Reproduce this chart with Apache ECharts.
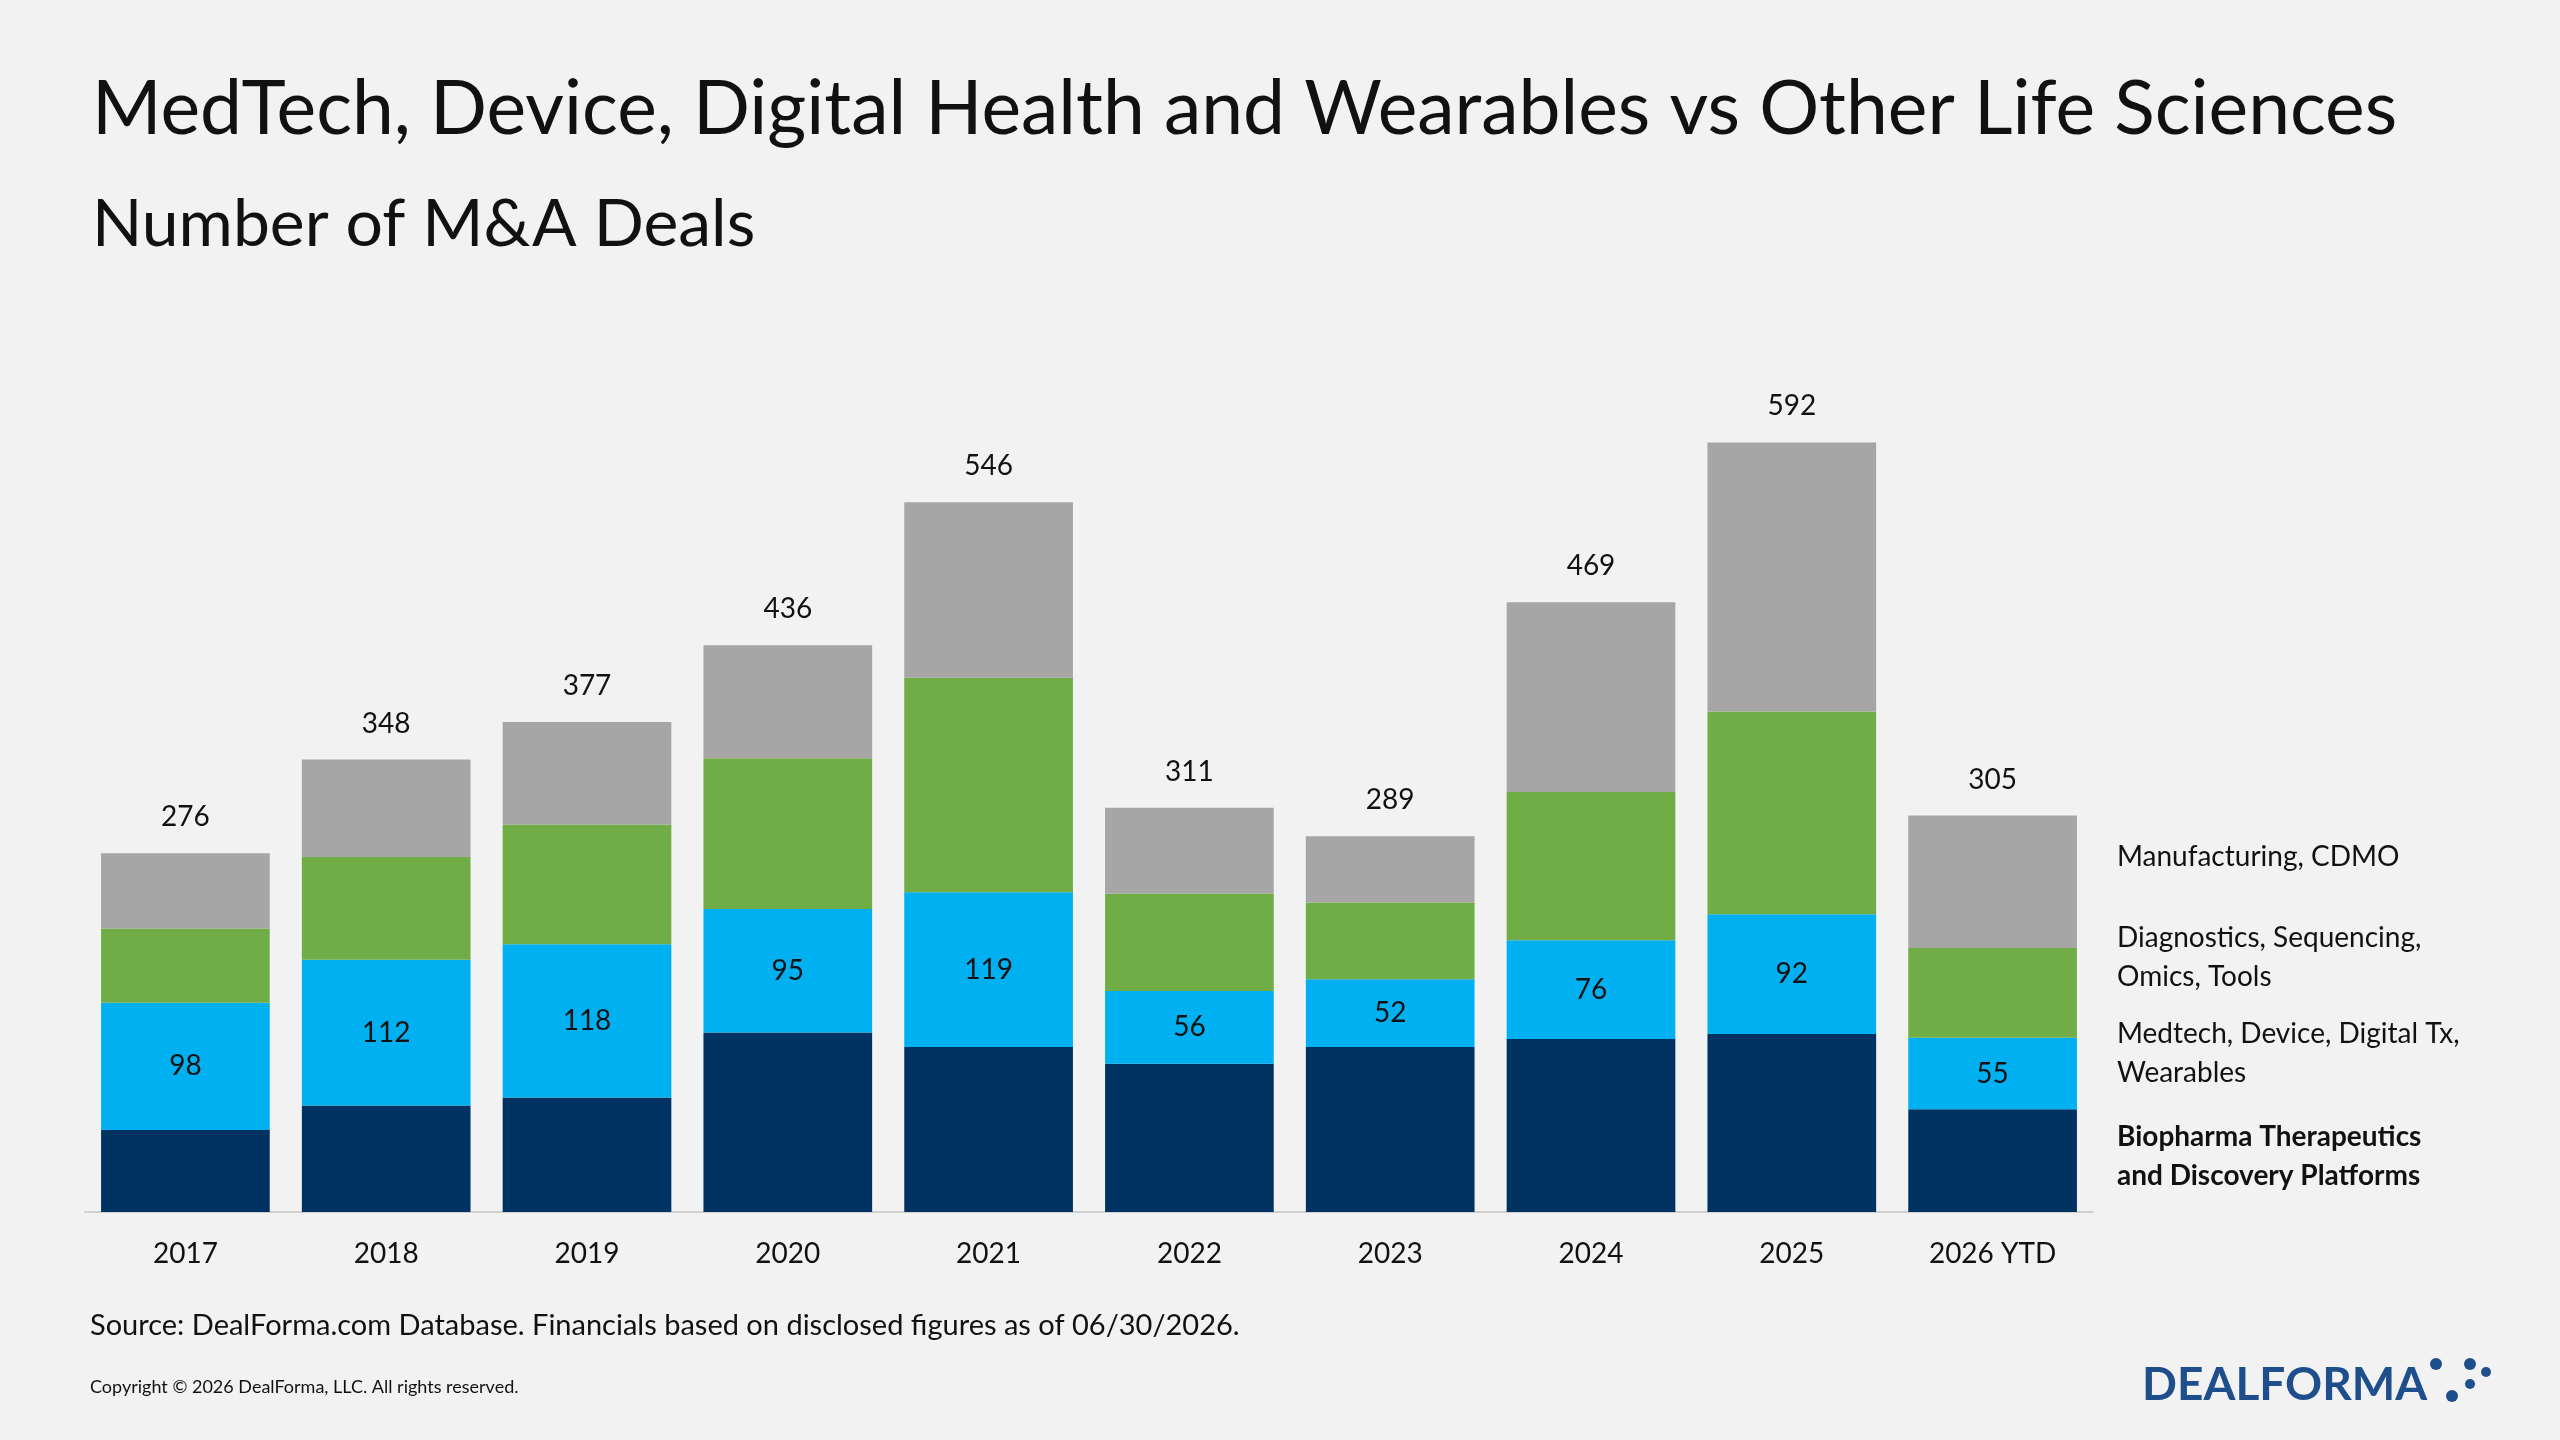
<!DOCTYPE html>
<html><head><meta charset="utf-8">
<script src="https://cdn.jsdelivr.net/npm/echarts@6/dist/echarts.min.js"></script>
<style>html,body{margin:0;background:#f2f2f2}#c{width:2560px;height:1440px}</style>
</head><body><div id="c"></div>
<script>
const categories = ['2017','2018','2019','2020','2021','2022','2023','2024','2025','2026 YTD'];
const biopharma = [63,82,88,138,127,114,127,133,137,79];
const medtech = [98,112,118,95,119,56,52,76,92,55];
const diagnostics = [57,79,92,116,165,75,59,114,156,69];
const manufacturing = [58,75,79,87,135,66,51,146,207,102];
const totals = [276,348,377,436,546,311,289,469,592,305];

const F = 'Lato, "Open Sans", sans-serif';
const chart = echarts.init(document.getElementById('c'));
const base = {type:'bar', stack:'s', barCategoryGap:'16%'};
chart.setOption({
  backgroundColor:'#f2f2f2',
  animation:false,
  textStyle:{fontFamily:F},
  grid:{left:85, right:467, top:432, bottom:228},
  xAxis:{type:'category', data:categories,
    axisLine:{lineStyle:{color:'#d0d0d0',width:2}}, axisTick:{show:false},
    axisLabel:{color:'#111',fontSize:28,fontFamily:F,margin:28}},
  yAxis:{type:'value', min:0, max:600, show:false, splitLine:{show:false}},
  series:[
    {...base, name:'Biopharma', data:biopharma, itemStyle:{color:'#003262'}},
    {...base, name:'Medtech', data:medtech, itemStyle:{color:'#00b0f0'},
      label:{show:true, position:'inside', color:'#111', fontSize:28, fontFamily:F}},
    {...base, name:'Diagnostics', data:diagnostics, itemStyle:{color:'#70ad47'}},
    {...base, name:'Manufacturing', data:manufacturing, itemStyle:{color:'#a6a6a6'},
      label:{show:true, position:'top', distance:22, color:'#111', fontSize:28, fontFamily:F,
        formatter:p=>totals[p.dataIndex]}}
  ],
  graphic:[
    {type:'text', left:92, top:72, style:{text:'MedTech, Device, Digital Health and Wearables vs Other Life Sciences', font:'75px '+F, fill:'#111'}},
    {type:'text', left:92, top:192, style:{text:'Number of M&A Deals', font:'66px '+F, fill:'#111'}},
    {type:'text', left:2117, top:843, style:{text:'Manufacturing, CDMO', font:'28px '+F, fill:'#111'}},
    {type:'text', left:2117, top:918, style:{text:'Diagnostics, Sequencing,\nOmics, Tools', font:'28px '+F, fill:'#111', lineHeight:39}},
    {type:'text', left:2117, top:1014, style:{text:'Medtech, Device, Digital Tx,\nWearables', font:'28px '+F, fill:'#111', lineHeight:39}},
    {type:'text', left:2117, top:1117, style:{text:'Biopharma Therapeutics\nand Discovery Platforms', font:'bold 28px '+F, fill:'#111', lineHeight:39}},
    {type:'text', left:90, top:1311, style:{text:'Source: DealForma.com Database. Financials based on disclosed figures as of 06/30/2026.', font:'29px '+F, fill:'#111'}},
    {type:'text', left:90, top:1378, style:{text:'Copyright © 2026 DealForma, LLC. All rights reserved.', font:'18px '+F, fill:'#111'}},
    {type:'text', left:2142, top:1362, style:{text:'DEALFORMA', font:'bold 46px '+F, fill:'#1f4e8c'}},
    {type:'circle', shape:{cx:2436,cy:1364,r:6}, style:{fill:'#1f4e8c'}},
    {type:'circle', shape:{cx:2470,cy:1364,r:6}, style:{fill:'#1f4e8c'}},
    {type:'circle', shape:{cx:2470,cy:1384,r:5}, style:{fill:'#1f4e8c'}},
    {type:'circle', shape:{cx:2452,cy:1396,r:6}, style:{fill:'#1f4e8c'}},
    {type:'circle', shape:{cx:2486,cy:1372,r:5}, style:{fill:'#1f4e8c'}}
  ]
});
</script></body></html>
